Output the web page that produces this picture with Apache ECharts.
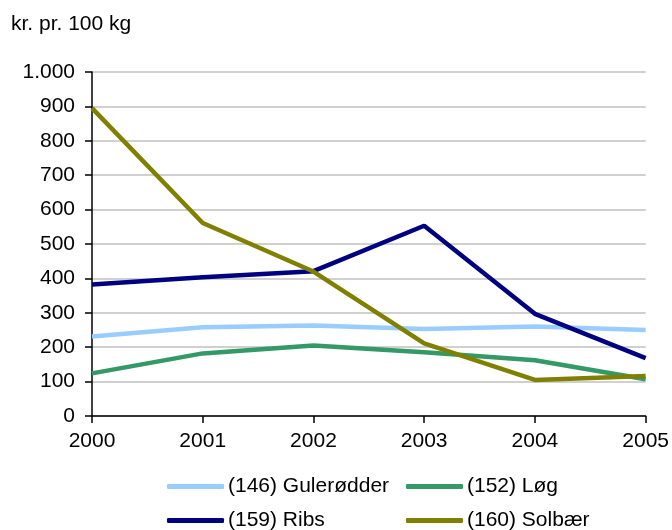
<!DOCTYPE html>
<html>
<head>
<meta charset="utf-8">
<script src="https://cdn.jsdelivr.net/npm/echarts@6/dist/echarts.min.js"></script>
<style>
    html, body { margin: 0; padding: 0; background: #fff; }
    #chart { width: 672px; height: 530px; }
</style>
</head>
<body>
<div id="chart"></div>
<script>
const years = ["2000", "2001", "2002", "2003", "2004", "2005"];
const gulerodder = [231, 258, 263, 253, 260, 250];
const log = [124, 182, 205, 185, 162, 107];
const ribs = [382, 403, 421, 553, 297, 168];
const solbaer = [895, 561, 420, 211, 105, 116];

const font = "Liberation Sans, Arial, sans-serif";

let chart = echarts.init(document.getElementById("chart"));

function lineSeries(name, data, color) {
    return {
        name: name,
        type: "line",
        data: data,
        showSymbol: false,
        symbol: "none",
        lineStyle: { color: color, width: 4.5 },
        itemStyle: { color: color },
    };
}

function legendAt(name, left, top) {
    return {
        left: left,
        top: top,
        itemWidth: 57,
        itemHeight: 5,
        itemGap: 0,
        icon: "roundRect",
        textStyle: { color: "#000", fontSize: 21, fontFamily: font, padding: [0, 0, 0, -1] },
        data: [name],
    };
}

chart.setOption({
    animation: false,
    textStyle: { fontFamily: font },
    title: {
        text: "kr. pr. 100 kg",
        left: 6,
        top: 9,
        textStyle: { color: "#000", fontSize: 21, fontWeight: "normal", fontFamily: font },
    },
    grid: {
        left: 92,
        right: 24,
        top: 72,
        bottom: 114,
    },
    legend: [
        legendAt("(146) Gulerødder", 162, 471),
        legendAt("(152) Løg", 401, 471),
        legendAt("(159) Ribs", 162, 505),
        legendAt("(160) Solbær", 401, 505),
    ],
    xAxis: {
        type: "category",
        boundaryGap: false,
        data: years,
        axisLine: { lineStyle: { color: "#000", width: 1.5 } },
        axisTick: { inside: false, length: 7, lineStyle: { color: "#000", width: 1.5 } },
        axisLabel: { color: "#000", fontSize: 21, margin: 15, showMaxLabel: true },
        splitLine: { show: false },
    },
    yAxis: {
        type: "value",
        min: 0,
        max: 1000,
        interval: 100,
        axisLine: { show: true, lineStyle: { color: "#000", width: 1.5 } },
        axisTick: { show: true, length: 7, lineStyle: { color: "#000", width: 1.5 } },
        axisLabel: {
            color: "#000",
            fontSize: 21,
            margin: 17,
            formatter: function (v) {
                return v >= 1000 ? "1.000" : String(v);
            },
        },
        splitLine: { lineStyle: { color: "#c0c0c0", width: 1.5 } },
    },
    series: [
        lineSeries("(146) Gulerødder", gulerodder, "#99ccff"),
        lineSeries("(152) Løg", log, "#339966"),
        lineSeries("(159) Ribs", ribs, "#000080"),
        lineSeries("(160) Solbær", solbaer, "#808000"),
    ],
});
</script>
</body>
</html>
